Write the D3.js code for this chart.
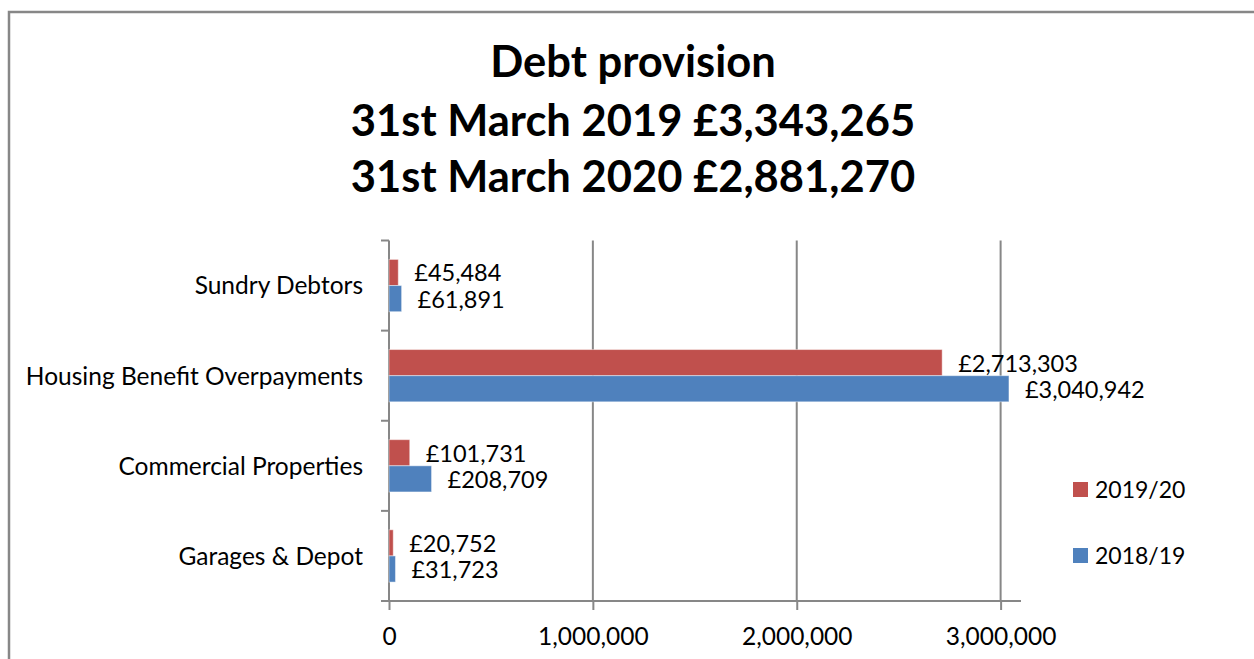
<!DOCTYPE html>
<html>
<head>
<meta charset="utf-8">
<script src="https://cdn.jsdelivr.net/npm/d3@7"></script>
<style>
  html, body { margin: 0; padding: 0; background: #fff; }
  svg { display: block; }
  text { font-family: Lato, "Open Sans", sans-serif; fill: #000; }
</style>
</head>
<body>
<svg id="chart" width="1254" height="659"></svg>
<script>
// Debt provision by category, two financial years
const categories = ["Sundry Debtors", "Housing Benefit Overpayments", "Commercial Properties", "Garages & Depot"];
const seriesNames = ["2019/20", "2018/19"];
const values2019_20 = [45484, 2713303, 101731, 20752];
const values2018_19 = [61891, 3040942, 208709, 31723];
const seriesColors = ["#C0504D", "#4F81BD"];
const xTicks = [0, 1000000, 2000000, 3000000];
const titleLines = ["Debt provision", "31st March 2019 £3,343,265", "31st March 2020 £2,881,270"];

const seriesValues = [values2019_20, values2018_19];
const rows = categories.map((c, i) => ({
  category: c,
  bars: seriesNames.map((s, j) => ({ series: s, value: seriesValues[j][i], color: seriesColors[j] }))
}));

const svg = d3.select("#chart");
const gridColor = "#878787";

// outer chart frame (runs off the right and bottom edges)
svg.append("rect")
  .attr("x", 9).attr("y", 12)
  .attr("width", 1300).attr("height", 700)
  .attr("fill", "none").attr("stroke", gridColor).attr("stroke-width", 2.5);

// title
svg.append("g").selectAll("text").data(titleLines).join("text")
  .attr("x", 633)
  .attr("y", (d, i) => [77, 136, 192][i])
  .attr("text-anchor", "middle")
  .attr("font-weight", "bold")
  .attr("font-size", 43.5)
  .text(d => d);

// scales
const x = d3.scaleLinear().domain([0, 3100000]).range([389, 1021]);
const y = d3.scaleBand().domain(categories).range([240.5, 601])
  .paddingInner(0.42).paddingOuter(0.21);
const ySub = d3.scaleBand().domain(seriesNames).range([0, y.bandwidth()]);
const yTop = 240.5, yBottom = 601;

// vertical gridlines
svg.append("g").selectAll("line").data(xTicks.filter(t => t > 0)).join("line")
  .attr("x1", d => x(d)).attr("x2", d => x(d))
  .attr("y1", yTop).attr("y2", yBottom)
  .attr("stroke", gridColor).attr("stroke-width", 2);

// x axis along the bottom
const xAxis = d3.axisBottom(x).tickValues(xTicks)
  .tickFormat(d3.format(",")).tickSizeInner(9).tickSizeOuter(0).tickPadding(18);
const gx = svg.append("g").attr("transform", `translate(0,${yBottom})`).call(xAxis);
gx.select(".domain").remove();
gx.selectAll(".tick line").attr("stroke", gridColor).attr("stroke-width", 2);
gx.selectAll(".tick text").attr("font-size", 24.5).attr("font-family", "Lato").attr("fill", "#000")
  .attr("dy", "0.71em");
gx.append("line").attr("x1", 381).attr("x2", x(3100000)).attr("y1", 0).attr("y2", 0)
  .attr("stroke", gridColor).attr("stroke-width", 2);

// y axis with ticks between the categories
const boundaries = d3.range(categories.length + 1).map(i => yTop + i * y.step());
const gy = svg.append("g");
gy.append("line").attr("x1", x(0)).attr("x2", x(0)).attr("y1", yTop).attr("y2", yBottom)
  .attr("stroke", gridColor).attr("stroke-width", 2);
gy.selectAll("line.tk").data(boundaries).join("line").attr("class", "tk")
  .attr("x1", 381).attr("x2", x(0)).attr("y1", d => d).attr("y2", d => d)
  .attr("stroke", gridColor).attr("stroke-width", 2);
gy.selectAll("text").data(categories).join("text")
  .attr("x", 363)
  .attr("y", d => y(d) + y.bandwidth() / 2)
  .attr("dy", "0.36em")
  .attr("text-anchor", "end")
  .attr("font-size", 24.5)
  .text(d => d);

// bars and value labels
const fmt = d3.format(",");
const groups = svg.append("g").selectAll("g").data(rows).join("g")
  .attr("transform", d => `translate(0,${y(d.category)})`);
groups.selectAll("rect").data(d => d.bars).join("rect")
  .attr("x", x(0))
  .attr("y", d => ySub(d.series))
  .attr("width", d => x(d.value) - x(0))
  .attr("height", ySub.bandwidth())
  .attr("fill", d => d.color)
  .attr("stroke", "rgba(255,255,255,0.45)")
  .attr("stroke-width", 1);
groups.selectAll("text").data(d => d.bars).join("text")
  .attr("x", d => x(d.value) + 16)
  .attr("y", d => ySub(d.series) + ySub.bandwidth() / 2)
  .attr("dy", "0.38em")
  .attr("font-size", 23.5)
  .text(d => "£" + fmt(d.value));

// legend
const legend = svg.append("g").selectAll("g").data(seriesNames).join("g")
  .attr("transform", (d, i) => `translate(1073,${482 + i * 66})`);
legend.append("rect").attr("width", 15).attr("height", 15)
  .attr("fill", (d, i) => seriesColors[i]);
legend.append("text").attr("x", 22).attr("y", 8).attr("dy", "0.36em")
  .attr("font-size", 23).text(d => d);
</script>
</body>
</html>
